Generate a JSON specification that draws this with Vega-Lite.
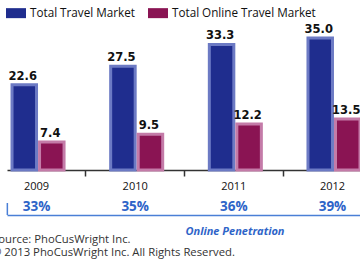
{
  "$schema": "https://vega.github.io/schema/vega-lite/v6.json",
  "autosize": {"type": "pad"},
  "padding": {"left": -14, "top": 3, "right": 0, "bottom": 4},
  "config": {"view": {"stroke": null}, "font": "Open Sans"},
  "datasets": {
    "market": [
      {"year": "2009", "series": "Total Travel Market", "value": 22.6},
      {"year": "2009", "series": "Total Online Travel Market", "value": 7.4},
      {"year": "2010", "series": "Total Travel Market", "value": 27.5},
      {"year": "2010", "series": "Total Online Travel Market", "value": 9.5},
      {"year": "2011", "series": "Total Travel Market", "value": 33.3},
      {"year": "2011", "series": "Total Online Travel Market", "value": 12.2},
      {"year": "2012", "series": "Total Travel Market", "value": 35.0},
      {"year": "2012", "series": "Total Online Travel Market", "value": 13.5}
    ],
    "penetration": [
      {"year": "2009", "pct": "33%"},
      {"year": "2010", "pct": "35%"},
      {"year": "2011", "pct": "36%"},
      {"year": "2012", "pct": "39%"}
    ]
  },
  "title": {
    "text": ["Source: PhoCusWright Inc.", "© 2013 PhoCusWright Inc. All Rights Reserved."],
    "orient": "bottom",
    "anchor": "start",
    "frame": "group",
    "dx": -15,
    "offset": -2,
    "font": "Open Sans",
    "fontSize": 11.3,
    "fontWeight": "normal",
    "color": "#333333",
    "lineHeight": 12.5
  },
  "spacing": 9,
  "vconcat": [
    {
      "width": 355,
      "height": 140,
      "data": {"name": "market"},
      "encoding": {
        "x": {
          "field": "year",
          "type": "nominal",
          "scale": {"paddingInner": 0.442, "paddingOuter": 0.0203},
          "axis": {
            "title": null,
            "labelAngle": 0,
            "bandPosition": -0.394,
            "tickSize": 6,
            "tickWidth": 1.5,
            "tickColor": "#333333",
            "domainColor": "#333333",
            "domainWidth": 1.5,
            "labelFont": "Open Sans",
            "labelFontSize": 11,
            "labelColor": "#111111",
            "labelPadding": 4
          }
        },
        "xOffset": {
          "field": "series",
          "type": "nominal",
          "scale": {"domain": ["Total Travel Market", "Total Online Travel Market"], "paddingInner": 0, "paddingOuter": 0}
        },
        "y": {
          "field": "value",
          "type": "quantitative",
          "scale": {"domain": [0, 37.13], "nice": false, "zero": true},
          "axis": null
        }
      },
      "layer": [
        {
          "mark": {"type": "bar", "strokeWidth": 3, "width": {"band": 0.89}},
          "encoding": {
            "color": {
              "field": "series",
              "type": "nominal",
              "scale": {"domain": ["Total Travel Market", "Total Online Travel Market"], "range": ["#1f2d8e", "#8a1453"]},
              "legend": {
                "orient": "none",
                "legendX": -1,
                "legendY": -27,
                "direction": "horizontal",
                "title": null,
                "padding": 0,
                "symbolType": "M-1,-0.5H1V0.5H-1Z",
                "symbolSize": 400,
                "symbolStrokeWidth": 0,
                "symbolOpacity": 1,
                "labelFont": "Open Sans",
                "labelFontSize": 11.7,
                "labelColor": "#111111",
                "labelOffset": 4,
                "columnPadding": 13
              }
            },
            "stroke": {
              "field": "series",
              "type": "nominal",
              "scale": {"domain": ["Total Travel Market", "Total Online Travel Market"], "range": ["#6c7ac4", "#c47ba8"]},
              "legend": null
            }
          }
        },
        {
          "mark": {"type": "text", "baseline": "bottom", "dy": -3, "font": "DejaVu Sans", "fontWeight": "bold", "fontSize": 11.5, "color": "#111111"},
          "encoding": {"text": {"field": "value", "type": "quantitative", "format": ".1f"}}
        }
      ]
    },
    {
      "width": 355,
      "height": 12,
      "data": {"name": "penetration"},
      "encoding": {
        "x": {
          "field": "year",
          "type": "nominal",
          "scale": {"paddingInner": 0.442, "paddingOuter": 0.0203},
          "axis": {
            "labels": false,
            "ticks": false,
            "domainColor": "#4a7fd6",
            "domainWidth": 1.5,
            "title": "Online Penetration",
            "titleX": 227.5,
            "titlePadding": 10,
            "titleFont": "Open Sans",
            "titleFontSize": 11,
            "titleFontStyle": "italic",
            "titleFontWeight": "bold",
            "titleColor": "#2e64c8"
          }
        }
      },
      "layer": [
        {
          "mark": {"type": "text", "dy": -2, "font": "Open Sans", "fontWeight": "bold", "fontSize": 13.5, "color": "#2e64c8"},
          "encoding": {"text": {"field": "pct", "type": "nominal"}}
        },
        {
          "transform": [{"filter": "datum.year == '2009'"}],
          "mark": {"type": "rule", "color": "#4a7fd6", "strokeWidth": 1.5},
          "encoding": {"x": {"field": "year", "type": "nominal", "bandPosition": -0.03}}
        }
      ]
    }
  ]
}
